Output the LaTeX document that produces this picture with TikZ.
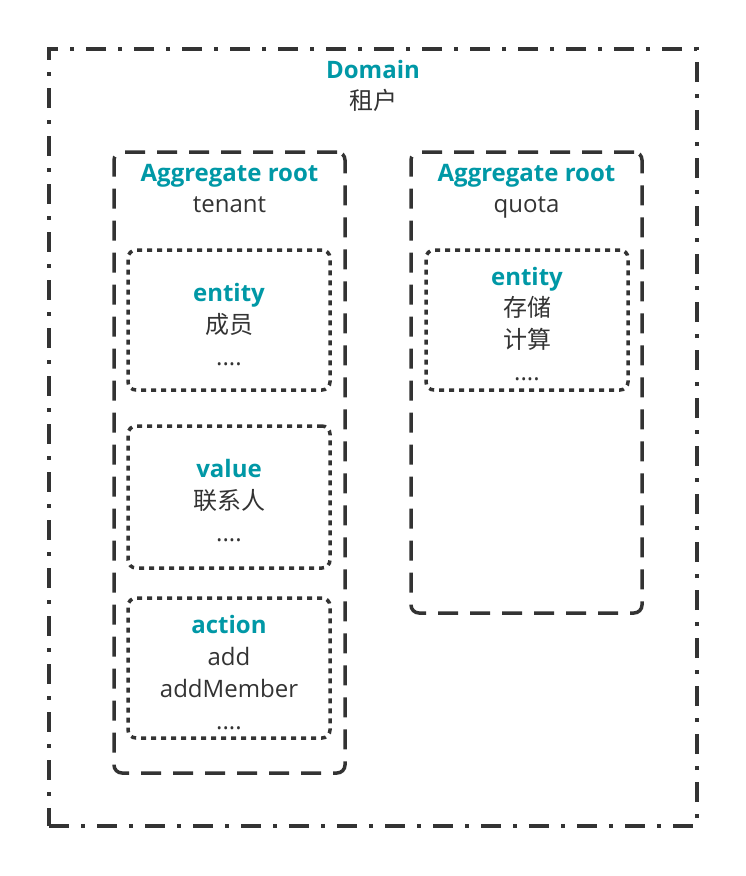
\documentclass[tikz,border=0pt]{standalone}
\usepackage{fontspec}
\usepackage{xcolor}
\setmainfont{Open Sans}
\newfontfamily\cjk{Noto Sans CJK SC}
\usetikzlibrary{positioning}
\definecolor{headteal}{HTML}{0098A6}
\definecolor{inkgray}{HTML}{333333}

\begin{document}
\begin{tikzpicture} [
	x=1pt, y=-1pt, % one unit is one pixel of the reference, y grows downwards
	domainbox/.style={draw=inkgray, line width=4pt, dash pattern=on 20pt off 12pt on 4pt off 12pt, inner sep=0pt}, % the outer dash-dot frame
	aggbox/.style={draw=inkgray, line width=3.5pt, rounded corners=8pt, dash pattern=on 20pt off 12pt, inner sep=0pt}, % aggregate roots
	partbox/.style={draw=inkgray, line width=3.5pt, rounded corners=8pt, dash pattern=on 5pt off 5pt, inner sep=0pt}, % entity / value / action
	head/.style={text=headteal, font=\fontsize{24}{32}\selectfont\bfseries, inner sep=0pt, anchor=base},
	body/.style={text=inkgray, font=\fontsize{24}{32}\selectfont, inner sep=0pt, anchor=base},
	]
	\useasboundingbox (0,0) rectangle (746,876);

	% boxes
	\node[domainbox, minimum width=648pt, minimum height=777pt] (dom) at (373,437.5) {};
	\node[aggbox, minimum width=231pt, minimum height=621pt] (tenant) at (229.5,462.5) {};
	\node[aggbox, minimum width=231pt, minimum height=461pt] (quota) at (526.5,382.5) {};
	\node[partbox, minimum width=202pt, minimum height=140pt] (member) at (229,320) {};
	\node[partbox, minimum width=202pt, minimum height=142pt] (contact) at (229,497) {};
	\node[partbox, minimum width=202pt, minimum height=140pt] (act) at (229,668) {};
	\node[partbox, minimum width=202pt, minimum height=140pt] (res) at (527,320) {};

	% texts, one node per line
	\node[head] (domH) at ([yshift=-31pt]dom.north) {Domain};
	\node[body] (domB) at ([yshift=-31pt]domH.base) {\cjk 租户};

	\node[head] (tenantH) at ([yshift=-31pt]tenant.north) {Aggregate root};
	\node[body] (tenantB) at ([yshift=-31pt]tenantH.base) {tenant};

	\node[head] (quotaH) at ([yshift=-31pt]quota.north) {Aggregate root};
	\node[body] (quotaB) at ([yshift=-31pt]quotaH.base) {quota};

	\node[head] (memberH) at ([yshift=-53pt]member.north) {entity};
	\node[body] (memberB1) at ([yshift=-32pt]memberH.base) {\cjk 成员};
	\node[body] (memberB2) at ([yshift=-32pt]memberB1.base) {....};

	\node[head] (contactH) at ([yshift=-53pt]contact.north) {value};
	\node[body] (contactB1) at ([yshift=-32pt]contactH.base) {\cjk 联系人};
	\node[body] (contactB2) at ([yshift=-32pt]contactB1.base) {....};

	\node[head] (actH) at ([yshift=-37pt]act.north) {action};
	\node[body] (actB1) at ([yshift=-32pt]actH.base) {add};
	\node[body] (actB2) at ([yshift=-32pt]actB1.base) {addMember};
	\node[body] (actB3) at ([yshift=-32pt]actB2.base) {....};

	\node[head] (resH) at ([yshift=-37pt]res.north) {entity};
	\node[body] (resB1) at ([yshift=-31pt]resH.base) {\cjk 存储};
	\node[body] (resB2) at ([yshift=-32pt]resB1.base) {\cjk 计算};
	\node[body] (resB3) at ([yshift=-32pt]resB2.base) {....};
\end{tikzpicture}
\end{document}
